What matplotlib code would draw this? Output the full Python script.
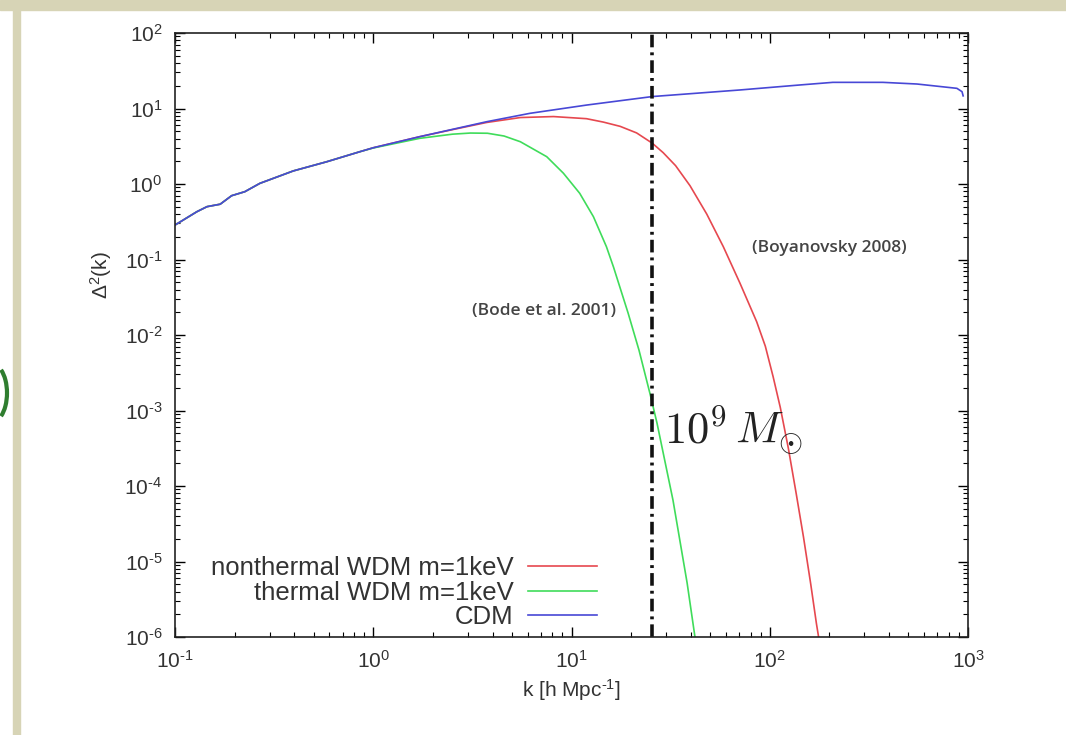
import matplotlib
matplotlib.use('Agg')
import matplotlib.pyplot as plt
from matplotlib.patches import Rectangle, Arc
from matplotlib.ticker import FuncFormatter
import numpy as np

plt.rcParams['font.family'] = ['Liberation Sans', 'DejaVu Sans']
plt.rcParams['mathtext.fontset'] = 'custom'
plt.rcParams['mathtext.rm'] = 'Liberation Sans'
plt.rcParams['mathtext.it'] = 'Liberation Sans:italic'
plt.rcParams['axes.unicode_minus'] = False

# CDM power spectrum
k_cdm = [0.10, 0.129, 0.145, 0.169, 0.193, 0.225, 0.268, 0.395, 0.582, 0.857, 1.0,
         1.72, 3.73, 6.17, 11.9, 25.6, 70.8, 142, 208, 372, 553, 879, 933, 945]
d_cdm = [0.286, 0.430, 0.501, 0.540, 0.700, 0.791, 1.02, 1.49, 1.97, 2.68, 3.02,
         4.24, 6.68, 8.63, 11.1, 14.4, 17.6, 20.5, 22.2, 22.2, 21.1, 18.5, 16.7, 14.7]

# thermal WDM m=1keV (Bode et al. 2001)
k_th = [0.10, 0.129, 0.145, 0.169, 0.193, 0.225, 0.268, 0.395, 0.582, 0.857, 1.0,
        1.72, 2.51, 3.09, 3.77, 4.57, 5.52, 7.50, 9.10, 11.0, 12.9, 15.0, 16.3,
        19.3, 21.9, 24.9, 27.0, 32.5, 38.3, 42.0]
d_th = [0.286, 0.430, 0.501, 0.540, 0.700, 0.791, 1.02, 1.49, 1.97, 2.68, 3.00,
        4.03, 4.57, 4.73, 4.70, 4.32, 3.63, 2.30, 1.39, 0.753, 0.369, 0.148, 0.079,
        0.0195, 6.3e-3, 1.66e-3, 6.8e-4, 6.5e-5, 5.2e-6, 9.8e-7]

# nonthermal WDM m=1keV (Boyanovsky 2008)
k_nth = [0.10, 0.129, 0.145, 0.169, 0.193, 0.225, 0.268, 0.395, 0.582, 0.857, 1.0,
         1.72, 2.51, 3.73, 5.52, 8.11, 11.9, 14.5, 17.6, 21.3, 25.6, 29.0, 33.5,
         39.6, 48.1, 58.3, 70.8, 85.9, 95, 104, 113, 124, 136, 148, 161, 172, 182]
d_nth = [0.286, 0.430, 0.501, 0.540, 0.700, 0.791, 1.02, 1.49, 1.97, 2.68, 3.02,
         4.24, 5.25, 6.53, 7.59, 7.82, 7.33, 6.60, 5.80, 4.75, 3.46, 2.60, 1.75,
         0.95, 0.40, 0.148, 0.0484, 0.0150, 7.1e-3, 2.8e-3, 1.1e-3, 3.2e-4, 7.9e-5,
         2.1e-5, 5.0e-6, 1.5e-6, 6e-7]

k_cut = 25.5  # scale of a 10^9 Msun halo


def pow10(v, pos):
    # gnuplot-style labels with a plain hyphen in the exponent
    e = int(round(np.log10(v)))
    return r'10$^{\text{%d}}$' % e


fig = plt.figure(figsize=(10.66, 7.35), dpi=100)

# slide border
fig.add_artist(Rectangle((0, 1 - 10 / 735), 1, 10 / 735, transform=fig.transFigure,
                         color='#d7d4b6', zorder=0))
fig.add_artist(Rectangle((13 / 1066, 0), 7 / 1066, 1 - 10 / 735, transform=fig.transFigure,
                         color='#d7d4b6', zorder=0))
fig.add_artist(Arc((-8 / 1066, 1 - 393 / 735), 30 / 1066, 58 / 735, theta1=-75, theta2=75,
                   transform=fig.transFigure, color='#2f7d2f', lw=3))

ax = fig.add_axes([175 / 1066, 98 / 735, 793 / 1066, 604 / 735])
ax.plot(k_nth, d_nth, color='#e6484f', lw=1.2, label='nonthermal WDM m=1keV')
ax.plot(k_th, d_th, color='#3fdc5a', lw=1.2, label='thermal WDM m=1keV')
ax.plot(k_cdm, d_cdm, color='#4848d6', lw=1.2, label='CDM')
ax.axvline(k_cut, color='#111111', lw=2.6, dashes=[3.5, 1.4, 0.8, 1.4])

ax.set_xscale('log')
ax.set_yscale('log')
ax.set_xlim(0.1, 1000)
ax.set_ylim(1e-6, 100)
ax.xaxis.set_major_formatter(FuncFormatter(pow10))
ax.yaxis.set_major_formatter(FuncFormatter(pow10))

ax.tick_params(which='both', direction='in', top=True, right=True, labelsize=15,
               labelcolor='#333333', pad=9)
ax.tick_params(which='major', length=7, width=1)
ax.tick_params(which='minor', length=3.5, width=0.8)
for s in ax.spines.values():
    s.set_linewidth(1.2)
    s.set_color('#222222')

ax.set_xlabel(r'k [h Mpc$^{\text{-1}}$]', fontsize=15, color='#333333', labelpad=4)
ax.set_ylabel('Δ$^2$(k)', fontsize=15, color='#333333')
ax.yaxis.set_label_coords(-0.077, 0.6)

ax.text(7.3, 0.021, '(Bode et al. 2001)', fontsize=12.5, fontweight='semibold',
        color='#444444', ha='center', va='center', family=['Open Sans', 'DejaVu Sans'])
ax.text(200, 0.142, '(Boyanovsky 2008)', fontsize=12.5, fontweight='semibold',
        color='#444444', ha='center', va='center', family=['Open Sans', 'DejaVu Sans'])
ax.text(29.3, 3.5e-4, r'$10^9\,M_{\odot}$', fontsize=32, math_fontfamily='cm',
        color='#222222', ha='left', va='baseline')

leg = ax.legend(loc='lower right', bbox_to_anchor=(0.542, 0.0), frameon=False,
                markerfirst=False, fontsize=18.5, handlelength=2.7, handletextpad=0.55,
                labelspacing=0.03, borderpad=0.3, borderaxespad=0.0)
for t in leg.get_texts():
    t.set_color('#333333')

plt.savefig('out.png', dpi=100)
